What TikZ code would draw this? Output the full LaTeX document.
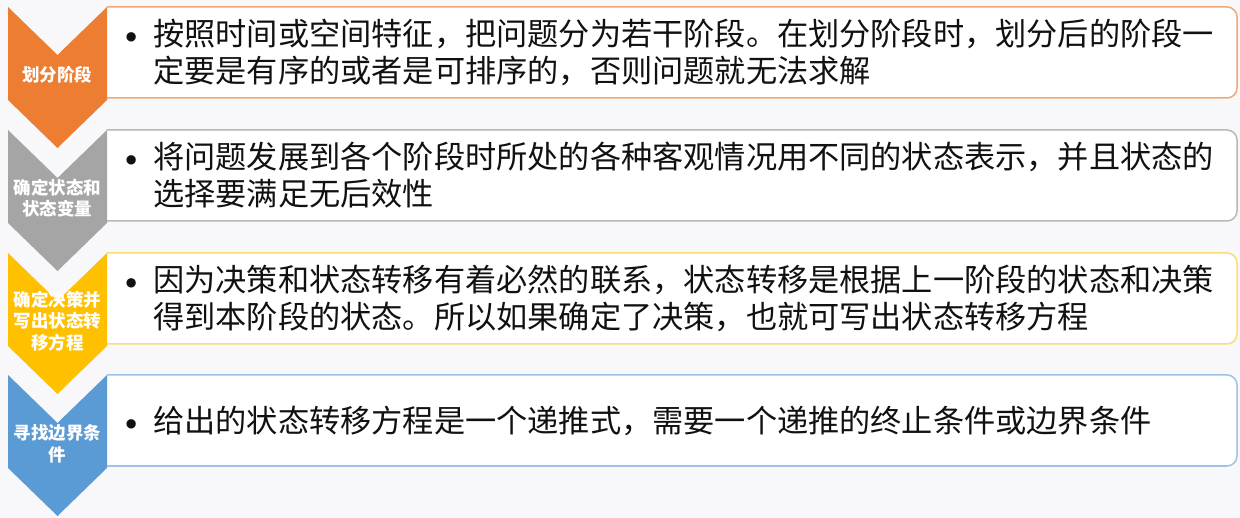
\documentclass[tikz,border=0pt]{standalone}
\usepackage{fontspec}
\newfontfamily\cjk{Noto Sans CJK SC}
\definecolor{bgc}{HTML}{F8F8FA}
\definecolor{c1}{HTML}{ED7D31}
\definecolor{c2}{HTML}{A5A5A5}
\definecolor{c3}{HTML}{FFC000}
\definecolor{c4}{HTML}{5B9BD5}
\definecolor{b1}{HTML}{F2A77A}
\definecolor{b2}{HTML}{B8B8B8}
\definecolor{b3}{HTML}{FFDC73}
\definecolor{b4}{HTML}{9DC3E6}
\definecolor{txt}{HTML}{111111}
\tikzset{
  chev/.style={fill=#1, draw=none},
  boxline/.style={draw=#1, line width=1.5pt, fill=white, rounded corners=10pt},
  lbl/.style={text=white, font=\cjk\bfseries\fontsize{17.5}{21.5}\selectfont, align=center, inner sep=0pt},
  body/.style={text=txt, font=\cjk\fontsize{31.2}{37}\selectfont, align=left, inner sep=0pt, anchor=west},
  bul/.style={text=txt, font=\fontsize{42}{42}\selectfont, inner sep=0pt, anchor=base}
}
\newcommand{\stagebox}[3]{% top, border colour, chevron colour
  \draw[boxline=#2] (107,#1+91) -- (1237,#1+91) -- (1237,#1) -- (107,#1);
  \fill[chev=#3] (8,#1) -- (57.5,#1+48) -- (107,#1) -- (107,#1+93) -- (57.5,#1+141) -- (8,#1+93) -- cycle;
}
\begin{document}
\begin{tikzpicture}[x=1pt,y=-1pt]
\useasboundingbox (0,0) rectangle (1240,518);
\fill[bgc] (0,0) rectangle (1240,518);
% stage 1
\stagebox{7}{b1}{c1}
\node[lbl] (l1) at (57.5,75) {划分阶段};
\node[body] (t1) at (153,52.5) {按照时间或空间特征，把问题分为若干阶段。在划分阶段时，划分后的阶段一\\定要是有序的或者是可排序的，否则问题就无法求解};
\node[bul] (d1) at (132,49) {\textbullet};
% stage 2
\stagebox{130}{b2}{c2}
\node[lbl] (l2) at (57.5,198) {确定状态和\\状态变量};
\node[body] (t2) at (153,175.5) {将问题发展到各个阶段时所处的各种客观情况用不同的状态表示，并且状态的\\选择要满足无后效性};
\node[bul] (d2) at (132,172) {\textbullet};
% stage 3
\stagebox{253}{b3}{c3}
\node[lbl] (l3) at (57.5,321) {确定决策并\\写出状态转\\移方程};
\node[body] (t3) at (153,298.5) {因为决策和状态转移有着必然的联系，状态转移是根据上一阶段的状态和决策\\得到本阶段的状态。所以如果确定了决策，也就可写出状态转移方程};
\node[bul] (d3) at (132,295) {\textbullet};
% stage 4
\stagebox{375}{b4}{c4}
\node[lbl] (l4) at (57.5,444) {寻找边界条\\件};
\node[body] (t4) at (153,420.5) {给出的状态转移方程是一个递推式，需要一个递推的终止条件或边界条件};
\node[bul] (d4) at (132,435.5) {\textbullet};
\end{tikzpicture}
\end{document}
